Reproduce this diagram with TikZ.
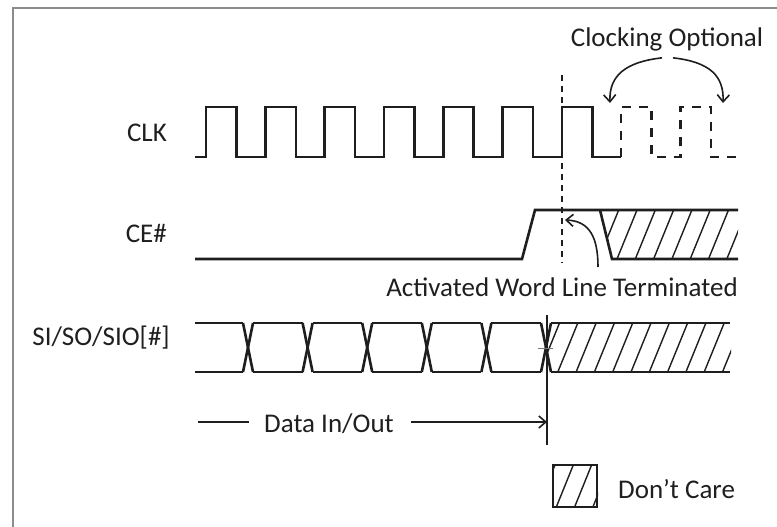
\documentclass[tikz,border=0pt]{standalone}
\usepackage{fontspec}
\setmainfont{Carlito}
\usetikzlibrary{arrows.meta}
\definecolor{ink}{HTML}{1E1E1E}
\definecolor{txt}{HTML}{1F1F1F}
\definecolor{frame}{HTML}{8C8C8C}
\tikzset{
  wave/.style={draw=ink, line width=2.6pt, line join=miter},
  dwave/.style={wave, dash pattern=on 9pt off 8pt},
  hatchline/.style={draw=ink, line width=1.4pt},
  marker/.style={draw=ink, line width=1.2pt},
  callout/.style={draw=ink, line width=1.6pt, -{Straight Barb[length=7pt,width=12pt,line width=1.6pt]}},
  lbl/.style={inner sep=0pt, text=txt, font=\fontsize{27}{31}\selectfont},
}
\begin{document}
\begin{tikzpicture}[x=1pt,y=-1pt]
\useasboundingbox (0,0) rectangle (777,527);
\fill[white] (0,0) rectangle (777,527);
% frame (top and left edges)
\draw[frame, line width=2pt] (13,527) -- (13,8) -- (777,8);

% labels
\node[lbl, anchor=base east] (clk) at (167,141) {CLK};
\node[lbl, anchor=base east] (ce) at (167,242) {CE\#};
\node[lbl, anchor=base east] (sio) at (170,345) {SI/SO/SIO[\#]};
\node[lbl, anchor=base] (clkopt) at (667,47) {Clocking Optional};
\node[lbl, anchor=base] (awl) at (562,296) {Activated Word Line Terminated};
\node[lbl, anchor=base] (dio) at (329,432) {Data In/Out};
\node[lbl, anchor=base west] (dc) at (618,498) {Don’t Care};

% CLK solid part
\draw[wave] (195,157) -- (206,157) -- (206,107) -- (236.5,107) -- (236.5,157)
  -- (265.3,157) -- (265.3,107) -- (295.8,107) -- (295.8,157)
  -- (324.6,157) -- (324.6,107) -- (355.1,107) -- (355.1,157)
  -- (383.9,157) -- (383.9,107) -- (414.4,107) -- (414.4,157)
  -- (443.2,157) -- (443.2,107) -- (473.7,107) -- (473.7,157)
  -- (502.5,157) -- (502.5,107) -- (533,107) -- (533,157)
  -- (561.8,157) -- (561.8,107) -- (592.3,107) -- (592.3,157)
  -- (621,157);
% CLK optional (dashed)
\draw[dwave] (621,157) -- (621,107) -- (651.6,107) -- (651.6,157)
  -- (680.4,157) -- (680.4,107) -- (710.9,107) -- (710.9,157) -- (738,157);

% dashed marker line
\coordinate (mtop) at (562,75);
\coordinate (mbot) at (562,263);
\draw[marker, dash pattern=on 6pt off 5pt] (mtop) -- (mbot);

% Clocking optional arrows
\coordinate (co1) at (610,103);
\coordinate (co2) at (723,103);
\draw[callout] ([xshift=-5pt,yshift=-6pt]clkopt.south) .. controls (625,62) and (609,76) .. (co1);
\draw[callout] ([xshift=6pt,yshift=-6pt]clkopt.south) .. controls (710,62) and (724,76) .. (co2);

% CE#
\draw[wave] (195,259) -- (522,259) -- (535,210) -- (738,210);
\begin{scope}
  \clip (600,210) -- (738,210) -- (738,259) -- (612,259) -- cycle;
  \foreach \b in {598.7,617,635.3,653.6,671.9,690.2,708.5,726.8,745.1}
    \draw[hatchline] (\b,259) -- (\b+20,210);
\end{scope}
\draw[wave] (600,210) -- (612,259) -- (738,259);

% word line terminated arrow
\coordinate (awlend) at (565,220);
\draw[callout] ([xshift=36pt,yshift=29pt]awl.base) .. controls (598,238) and (590,221) .. (awlend);

% SI/SO/SIO data
\draw[wave] (195,323) -- (243,323);
\draw[wave] (195,372) -- (243,372);
\foreach \c [count=\i] in {248,307.6,367.2,426.8,486.4,546} {
  \draw[wave] (\c-5,323) -- (\c+5,372);
  \draw[wave] (\c-5,372) -- (\c+5,323);
}
\foreach \a/\b in {253/302.6,312.6/362.2,372.2/421.8,431.8/481.4,491.4/541} {
  \draw[wave] (\a,323) -- (\b,323);
  \draw[wave] (\a,372) -- (\b,372);
}
\begin{scope}
  \clip (546,347.5) -- (551,323) -- (731,323) -- (731,372) -- (551,372) -- cycle;
  \foreach \b in {539.5,557.8,576.1,594.4,612.7,631,649.3,667.6,685.9,704.2,722.5,740.8}
    \draw[hatchline] (\b,372) -- (\b+20,323);
\end{scope}
\draw[wave] (551,323) -- (730,323);
\draw[wave] (551,372) -- (730,372);

% end-of-data marker
\coordinate (vtop) at (547,315);
\coordinate (vbot) at (547,445);
\draw[marker] (vtop) -- (vbot);
\draw[draw=ink!60, line width=1pt] (538,348) -- (553,348);

% Data In/Out arrow
\coordinate (dstart) at (198,422);
\coordinate (dend) at (547,422);
\draw[draw=ink, line width=1.6pt] (dstart) -- ([xshift=-15pt]dio.west |- dstart);
\draw[callout] ([xshift=17pt]dio.east |- dend) -- (dend);

% Don't Care legend
\node[draw=ink, line width=2pt, minimum width=44pt, minimum height=42pt, inner sep=0pt] (dcbox) at (575,486) {};
\begin{scope}
  \clip (dcbox.south west) rectangle (dcbox.north east);
  \foreach \b in {538,556.3,574.6,592.9}
    \draw[hatchline] (\b,507) -- (\b+17,465);
\end{scope}
\end{tikzpicture}
\end{document}
